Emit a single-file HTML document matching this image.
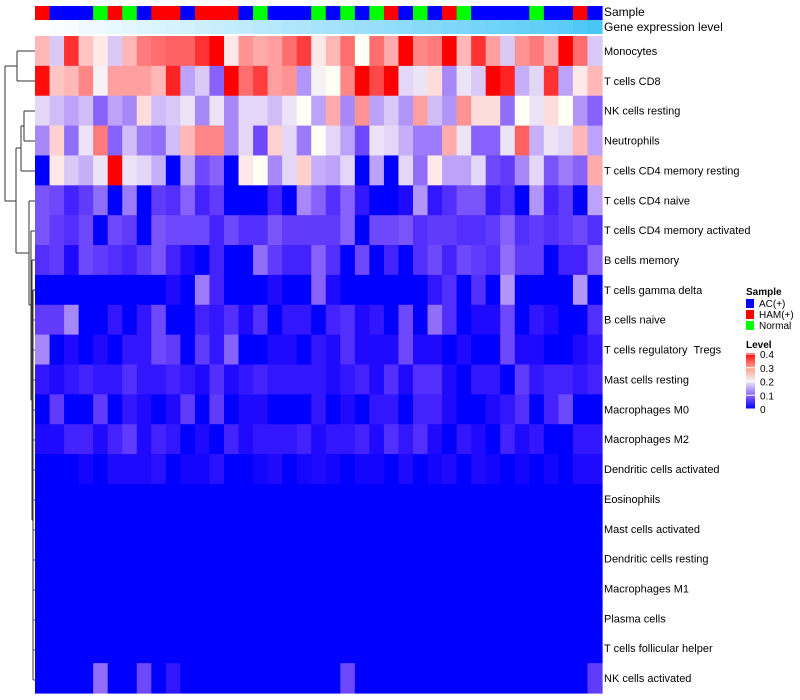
<!DOCTYPE html>
<html><head><meta charset="utf-8"><style>
body{margin:0;background:#fff;width:800px;height:700px;overflow:hidden;font-family:"Liberation Sans",sans-serif;}
svg{display:block}
text{white-space:pre}
</style></head><body>
<svg id="chart" width="800" height="700" xmlns="http://www.w3.org/2000/svg">
<g id="dendro" fill="none" stroke="#333" stroke-width="1">
<path d="M5,66 V201 M5,66 H17 M17,51 V81 M17,51 H35 M17,81 H35"/>
<path d="M5,201 H16 M16,148 V253 M16,148 H21 M21,126 V171 M21,126 H24 M24,111 V141 M24,111 H35 M24,141 H35 M21,171 H35"/>
<path d="M16,253 H29 M29,201 V305 M29,201 H35 M29,305 H31 M31,231 V400 M31,231 H35 M31,400 H32 M32,260 V520 M32,260 H35 M32,520 H33 M33,290 V680 M33,290 H35"/>
<path d="M33,320 H35 M33,350 H35 M33,380 H35 M33,410 H35 M33,440 H35 M33,470 H35 M33,500 H35 M33,530 H35 M33,560 H35 M33,590 H35 M33,620 H35 M33,650 H35 M33,680 H35" stroke="#555"/>
</g>
<g id="cells"></g>
<g id="annot"></g>
<g id="labels" font-size="11" fill="#000"></g>
<text x="604" y="16" font-size="12">Sample</text>
<text x="604" y="31" font-size="12">Gene expression level</text>
<g id="legend" font-size="10">
<text x="746" y="295" font-weight="bold">Sample</text>
<rect x="746" y="299" width="8" height="9" fill="#0000ff"/>
<text x="759" y="307">AC(+)</text>
<rect x="746" y="310" width="8" height="9" fill="#ff0000"/>
<text x="759" y="318">HAM(+)</text>
<rect x="746" y="321" width="8" height="9" fill="#00ff00"/>
<text x="759" y="329">Normal</text>
<text x="746" y="348" font-weight="bold">Level</text>
<defs><linearGradient id="lg" x1="0" y1="1" x2="0" y2="0">
<stop offset="0" stop-color="#0000ff"/><stop offset="0.25" stop-color="#8c64ff"/><stop offset="0.5" stop-color="#f2f0f5"/><stop offset="0.75" stop-color="#ff9a85"/><stop offset="1" stop-color="#ff0000"/></linearGradient></defs>
<rect x="746" y="353" width="9" height="56" fill="url(#lg)"/>
<g id="lvlticks"></g>
</g>
</svg>
<script>
const rowNames=["Monocytes","T cells CD8","NK cells resting","Neutrophils","T cells CD4 memory resting","T cells CD4 naive","T cells CD4 memory activated","B cells memory","T cells gamma delta","B cells naive","T cells regulatory  Tregs","Mast cells resting","Macrophages M0","Macrophages M2","Dendritic cells activated","Eosinophils","Mast cells activated","Dendritic cells resting","Macrophages M1","Plasma cells","T cells follicular helper","NK cells activated"];
const sampleGroups=["H","A","A","A","N","H","N","A","H","H","A","H","H","H","A","N","A","A","A","N","A","N","A","N","H","A","N","A","H","N","A","A","A","A","N","A","A","H","A"];
const geneLevel=[0,0.03,0.05,0.08,0.1,0.13,0.15,0.18,0.2,0.23,0.25,0.28,0.3,0.33,0.35,0.38,0.4,0.43,0.45,0.48,0.5,0.52,0.55,0.57,0.6,0.62,0.65,0.67,0.7,0.72,0.75,0.78,0.8,0.83,0.85,0.88,0.9,0.95,1];
const levelTicks=[0,0.1,0.2,0.3,0.4];
const Z=Array(39).fill(0);
const values=[
[0.25,0.16,0.36,0.24,0.21,0.16,0.25,0.3,0.31,0.32,0.32,0.36,0.4,0.21,0.28,0.26,0.27,0.31,0.35,0.21,0.25,0.31,0.2,0.31,0.26,0.4,0.29,0.3,0.4,0.25,0.36,0.27,0.16,0.28,0.3,0.26,0.4,0.31,0.16],
[0.39,0.24,0.25,0.29,0.19,0.27,0.27,0.27,0.25,0.37,0.13,0.16,0.08,0.4,0.31,0.35,0.27,0.28,0.12,0.19,0.2,0.29,0.4,0.34,0.4,0.17,0.18,0.22,0.11,0.18,0.16,0.4,0.37,0.14,0.17,0.36,0.13,0.21,0.25],
[0.17,0.15,0.13,0.15,0.08,0.13,0.11,0.22,0.15,0.16,0.18,0.11,0.18,0.11,0.17,0.17,0.15,0.18,0.2,0.13,0.26,0.11,0.28,0.13,0.16,0.12,0.27,0.15,0.12,0.28,0.22,0.22,0.09,0.2,0.18,0.22,0.2,0.12,0.08],
[0.11,0.23,0.09,0.18,0.3,0.08,0.15,0.1,0.09,0.15,0.25,0.29,0.29,0.11,0.17,0.06,0.23,0.17,0.1,0.2,0.17,0.13,0.06,0.18,0.17,0.14,0.1,0.1,0.26,0.18,0.08,0.08,0.18,0.32,0.14,0.18,0.17,0.25,0.13],
[0,0.21,0.16,0.14,0.18,0.4,0.18,0.17,0.14,0,0.13,0.06,0.08,0,0.21,0.2,0.11,0.17,0.23,0.14,0.13,0.17,0,0.13,0,0.17,0.09,0.21,0.13,0.13,0.17,0.06,0.05,0.11,0.17,0.07,0.1,0.08,0.26],
[0.07,0.06,0.03,0.05,0.09,0,0.1,0,0.05,0.04,0.08,0.03,0.05,0,0,0,0.03,0,0.11,0.08,0.04,0.08,0.02,0,0,0.01,0.12,0.02,0.04,0.07,0.07,0.02,0.04,0,0.12,0.03,0.05,0,0.13],
[0.07,0.05,0.04,0.06,0,0.06,0.05,0,0.07,0.06,0.06,0.06,0.03,0.06,0.04,0.04,0.07,0.05,0.05,0.05,0.05,0.08,0,0.06,0.06,0.07,0.04,0.05,0.05,0.04,0.04,0.05,0.08,0.04,0.05,0.04,0.05,0.06,0.04],
[0.04,0.05,0.01,0.06,0.05,0.04,0.03,0.05,0.07,0.03,0.01,0,0.03,0,0,0.09,0.05,0.03,0.03,0.08,0.04,0,0.06,0,0.03,0,0.04,0.06,0.03,0.06,0.05,0.04,0.09,0.05,0.05,0,0.03,0.03,0.08],
[0,0,0,0,0,0,0,0,0,0.01,0,0.1,0.03,0,0,0,0.01,0,0,0.08,0.01,0,0,0,0,0,0,0.02,0.04,0,0.04,0,0.12,0,0,0,0,0.12,0],
[0.05,0.05,0.11,0,0,0.02,0,0.02,0.06,0,0,0.03,0.02,0.04,0.01,0.04,0,0.02,0.02,0,0.03,0.04,0.01,0.02,0,0.06,0,0.09,0.04,0,0.01,0.01,0.06,0,0.02,0.01,0,0,0.04],
[0.11,0,0.01,0,0.01,0,0.02,0.02,0.06,0.05,0,0.05,0.02,0.08,0,0,0.01,0.01,0,0.02,0.01,0.04,0.01,0.01,0.01,0.06,0.01,0.01,0,0.01,0,0,0.06,0.01,0.01,0,0,0.01,0.02],
[0.02,0.01,0.02,0.03,0.02,0.02,0.04,0.02,0.02,0.03,0.02,0.01,0.04,0.01,0.02,0.03,0.02,0.02,0.02,0.02,0.01,0.02,0.03,0.01,0.04,0.01,0.04,0.04,0.01,0,0.02,0.02,0,0.05,0.02,0.03,0.03,0.02,0.03],
[0,0.05,0,0,0.05,0,0.02,0.01,0,0.01,0.05,0,0.05,0,0.01,0.01,0,0,0,0.02,0,0.01,0,0.02,0.02,0,0.03,0.03,0.01,0,0,0.01,0.02,0.04,0,0.03,0.06,0,0],
[0.01,0.01,0.03,0.03,0.01,0.03,0.05,0.01,0.03,0.02,0,0.01,0,0.03,0.01,0.02,0.02,0.02,0.03,0.01,0.02,0.02,0.03,0.01,0.04,0.02,0.04,0.01,0,0.02,0.01,0,0.03,0.01,0.02,0,0,0.02,0.02],
[0,0,0,0.005,0,0.01,0.01,0.01,0.015,0,0.005,0.005,0.015,0,0,0.005,0.01,0,0.005,0.01,0.005,0,0.005,0.005,0,0.01,0,0.005,0.01,0,0.01,0.005,0,0.005,0,0.005,0,0.01,0.01],
Z,Z,Z,Z,Z,Z,
[0,0,0,0,0.09,0,0,0.06,0,0.02,0,0,0,0,0,0,0,0,0,0,0,0.06,0,0,0,0,0,0,0,0,0,0,0,0,0,0,0,0,0.05]
];
const X0=35,X1=602,Y0=36,Y1=693;
const nC=sampleGroups.length,nR=rowNames.length;
const cw=(X1-X0)/nC,rh=(Y1-Y0)/nR;
const xCol=i=>X0+i*cw, yRow=j=>Y0+j*rh;
function col(v){
  const t=Math.max(0,Math.min(1,v/0.4));
  let r,g,b;
  if(t<=0.5){const s=t/0.5;r=255*Math.pow(s,0.7);g=255*Math.pow(s,1.05);b=255-10*s;}
  else{const s=(t-0.5)/0.5;r=255;g=245*(1-s);b=245*(1-s);}
  return `rgb(${r|0},${g|0},${b|0})`;
}
const NS="http://www.w3.org/2000/svg";
const cells=document.getElementById('cells');
values.forEach((row,j)=>row.forEach((v,i)=>{
  const r=document.createElementNS(NS,'rect');
  r.setAttribute('x',xCol(i));r.setAttribute('y',yRow(j));
  r.setAttribute('width',cw+0.6);r.setAttribute('height',rh+0.6);
  r.setAttribute('fill',col(v));
  
  
  cells.appendChild(r);
}));
const annot=document.getElementById('annot');
const sc={A:'#0000ff',H:'#ff0000',N:'#00ff00'};
sampleGroups.forEach((g,i)=>{
  const r=document.createElementNS(NS,'rect');
  r.setAttribute('x',xCol(i));r.setAttribute('y',6);r.setAttribute('width',cw+0.6);r.setAttribute('height',14);
  r.setAttribute('fill',sc[g]);
  
  
  annot.appendChild(r);
});
geneLevel.forEach((v,i)=>{
  const r=document.createElementNS(NS,'rect');
  r.setAttribute('x',xCol(i));r.setAttribute('y',20);r.setAttribute('width',cw+0.6);r.setAttribute('height',14);
  r.setAttribute('fill',`rgb(${Math.round(255-183*v)},${Math.round(255-57*v)},${Math.round(255-9*v)})`);
  
  
  annot.appendChild(r);
});
const labels=document.getElementById('labels');
rowNames.forEach((n,j)=>{
  const t=document.createElementNS(NS,'text');
  t.setAttribute('x',604);t.setAttribute('y',yRow(j)+rh/2+4);
  t.setAttribute('xml:space','preserve');
  t.textContent=n;
  
  
  labels.appendChild(t);
});
const lt=document.getElementById('lvlticks');
levelTicks.forEach(v=>{
  const y=409-v/0.4*55;
  const l=document.createElementNS(NS,'line');
  l.setAttribute('x1',746);l.setAttribute('x2',757);l.setAttribute('y1',y);l.setAttribute('y2',y);l.setAttribute('stroke','#fff');
  
  
  lt.appendChild(l);
  const t=document.createElementNS(NS,'text');
  t.setAttribute('x',760);t.setAttribute('y',y+4);t.textContent=v===0?'0':v.toFixed(1);
  
  
  lt.appendChild(t);
});
</script>
</body></html>
